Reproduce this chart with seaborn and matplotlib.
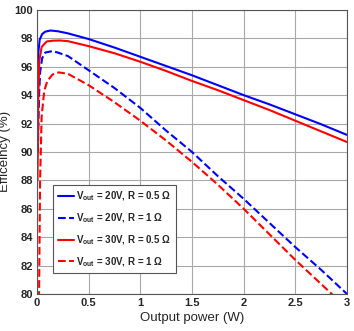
import matplotlib
matplotlib.use("Agg")
import matplotlib.pyplot as plt
import seaborn as sns
import pandas as pd

# data
x_b05 = [0.003, 0.013, 0.026, 0.05, 0.08, 0.13, 0.2, 0.3, 0.5, 0.75, 1.0, 1.25, 1.5, 1.75, 2.0, 2.25, 2.5, 2.75, 3.0]
y_b05 = [94.0, 97.0, 97.9, 98.3, 98.47, 98.55, 98.5, 98.35, 97.95, 97.35, 96.7, 96.05, 95.4, 94.7, 94.0, 93.35, 92.65, 91.95, 91.2]

x_b1 = [0.008, 0.02, 0.03, 0.05, 0.08, 0.15, 0.2, 0.3, 0.5, 0.75, 1.0, 1.25, 1.5, 1.75, 2.0, 2.25, 2.5, 2.75, 3.0]
y_b1 = [90.0, 94.0, 95.6, 96.6, 97.0, 97.1, 97.0, 96.75, 95.75, 94.5, 93.1, 91.5, 90.0, 88.3, 86.7, 85.0, 83.3, 81.7, 80.0]

x_r05 = [0.005, 0.012, 0.022, 0.045, 0.094, 0.15, 0.22, 0.3, 0.5, 0.75, 1.0, 1.25, 1.5, 1.75, 2.0, 2.25, 2.5, 2.75, 3.0]
y_r05 = [88.0, 93.5, 96.4, 97.4, 97.78, 97.83, 97.85, 97.8, 97.45, 96.95, 96.35, 95.7, 95.0, 94.35, 93.65, 92.95, 92.2, 91.45, 90.7]

x_r1 = [0.012, 0.02, 0.03, 0.045, 0.07, 0.1, 0.15, 0.21, 0.3, 0.5, 0.75, 1.0, 1.25, 1.5, 1.75, 2.0, 2.25, 2.5, 2.75, 3.0]
y_r1 = [72.0, 80.0, 88.0, 92.5, 94.3, 95.0, 95.45, 95.6, 95.5, 94.7, 93.5, 92.2, 90.8, 89.3, 87.7, 86.0, 84.2, 82.4, 80.7, 79.0]

labels = [r"V$_{\mathbf{out}}$ = 20V, R = 0.5 $\Omega$",
          r"V$_{\mathbf{out}}$ = 20V, R = 1 $\Omega$",
          r"V$_{\mathbf{out}}$ = 30V, R = 0.5 $\Omega$",
          r"V$_{\mathbf{out}}$ = 30V, R = 1 $\Omega$"]

sns.set_style("white")
plt.rcParams['font.family'] = ['Liberation Sans', 'DejaVu Sans']
plt.rcParams['mathtext.fontset'] = 'custom'
plt.rcParams['mathtext.rm'] = 'Liberation Sans:bold'
plt.rcParams['mathtext.bf'] = 'Liberation Sans:bold'
plt.rcParams['mathtext.it'] = 'Liberation Sans:bold'

fig = plt.figure(figsize=(3.54, 3.31), dpi=100)
ax = fig.add_axes([0.1045, 0.112, 0.8755, 0.858])

series = [(x_b05, y_b05, "#0000ff", "-"),
          (x_b1, y_b1, "#0000ff", "--"),
          (x_r05, y_r05, "#ff0000", "-"),
          (x_r1, y_r1, "#ff0000", "--")]
for (xs, ys, col, ls), lab in zip(series, labels):
    df = pd.DataFrame({"P": xs, "eff": ys})
    sns.lineplot(data=df, x="P", y="eff", color=col, linestyle=ls,
                 linewidth=1.5, label=lab, ax=ax, sort=True)

ax.set_xlim(0, 3)
ax.set_ylim(80, 100)
ax.set_xticks([0, 0.5, 1, 1.5, 2, 2.5, 3])
ax.set_xticklabels(["0", "0.5", "1", "1.5", "2", "2.5", "3"])
ax.set_yticks(range(80, 101, 2))
ax.grid(True, color="#a8a8a8", linewidth=0.8)
ax.tick_params(length=0, labelsize=8, pad=3)
for t in ax.get_xticklabels() + ax.get_yticklabels():
    t.set_fontweight("bold")
for s in ax.spines.values():
    s.set_color("#555555")
    s.set_linewidth(0.8)

ax.set_xlabel("Output power (W)", fontsize=9.5, labelpad=3)
ax.set_ylabel("Efficeincy (%)", fontsize=9.5, labelpad=2)

leg = ax.legend(loc="lower left", bbox_to_anchor=(0.035, 0.055),
                prop={"size": 7, "weight": "bold"}, handlelength=1.7,
                handletextpad=0.2, labelspacing=0.85, borderpad=0.5,
                fancybox=False, framealpha=1, edgecolor="#555555")
leg.get_frame().set_linewidth(0.8)

fig.savefig("out.png", dpi=100)
